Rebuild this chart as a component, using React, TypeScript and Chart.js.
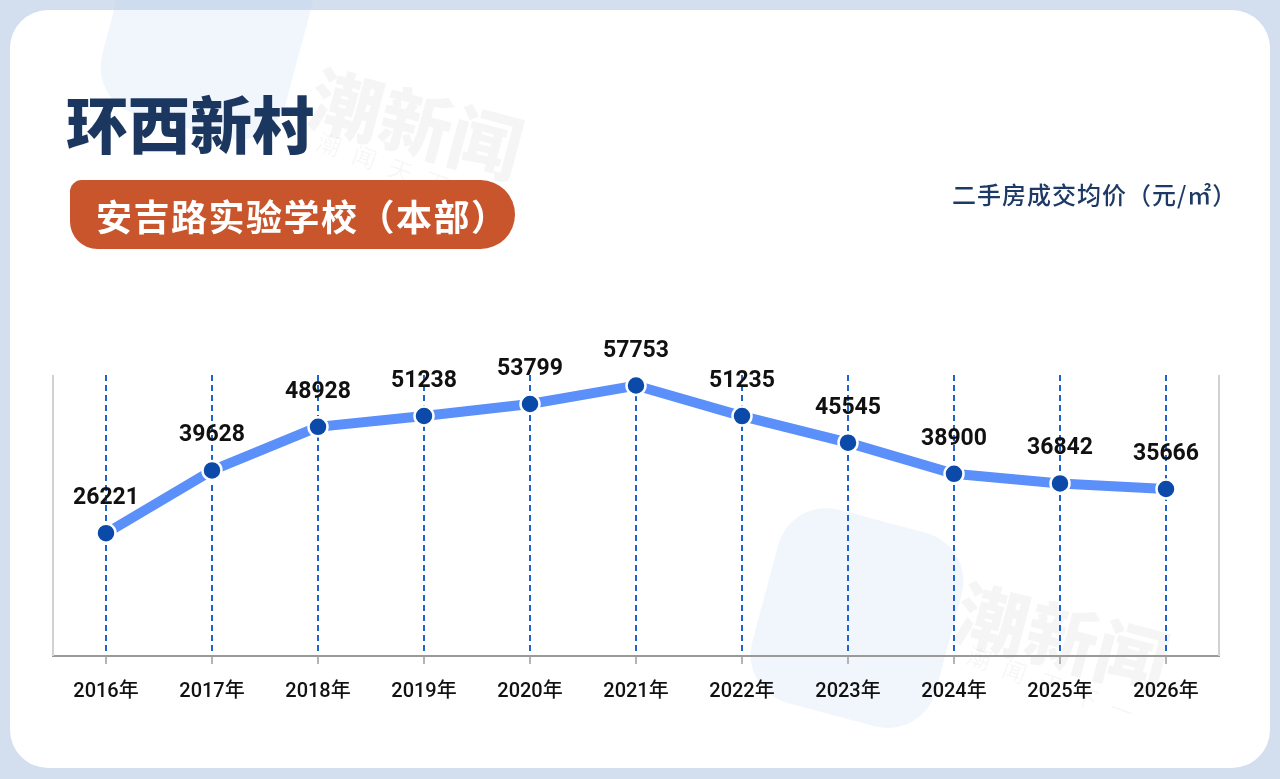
import React, { useEffect, useRef } from "react";
import { Chart, registerables } from "chart.js";

Chart.register(...registerables);

const years = ["2016年", "2017年", "2018年", "2019年", "2020年", "2021年", "2022年", "2023年", "2024年", "2025年", "2026年"];
const prices = [26221, 39628, 48928, 51238, 53799, 57753, 51235, 45545, 38900, 36842, 35666];
const yMin = 0;
const yMax = 60000;

const titleText = "环西新村";
const schoolText = "安吉路实验学校（本部）";
const unitText = "二手房成交均价（元/㎡）";

const NUM_FONT = "Roboto, 'Noto Sans CJK SC', sans-serif";
const CJK_FONT = "'Noto Sans CJK SC', 'Noto Sans', sans-serif";

const valueLabels = {
  id: "valueLabels",
  afterDatasetsDraw(chart: any) {
    const ctx = chart.ctx;
    const meta = chart.getDatasetMeta(0);
    ctx.save();
    ctx.font = `bold 23px ${NUM_FONT}`;
    ctx.fillStyle = "#111111";
    ctx.textAlign = "center";
    ctx.textBaseline = "alphabetic";
    meta.data.forEach((pt: any, i: number) => {
      ctx.fillText(String(prices[i]), pt.x, pt.y - 29);
    });
    ctx.restore();
  },
};

const sideBorders = {
  id: "sideBorders",
  beforeDatasetsDraw(chart: any) {
    const { ctx, chartArea } = chart;
    ctx.save();
    ctx.strokeStyle = "#d2d2d2";
    ctx.lineWidth = 2;
    ctx.beginPath();
    ctx.moveTo(chartArea.left, chartArea.top);
    ctx.lineTo(chartArea.left, chartArea.bottom);
    ctx.moveTo(chartArea.right, chartArea.top);
    ctx.lineTo(chartArea.right, chartArea.bottom);
    ctx.stroke();
    ctx.restore();
  },
};

function LineChart() {
  const ref = useRef<HTMLCanvasElement | null>(null);
  useEffect(() => {
    if (!ref.current) return;
    const chart = new Chart(ref.current, {
      type: "line",
      data: {
        labels: years,
        datasets: [
          {
            data: prices,
            borderColor: "#5b8ff9",
            borderWidth: 10,
            tension: 0,
            pointRadius: 9.5,
            pointHoverRadius: 9.5,
            pointBackgroundColor: "#0b4aa8",
            pointBorderColor: "#ffffff",
            pointBorderWidth: 2.5,
            clip: false as any,
          },
        ],
      },
      options: {
        animation: false,
        responsive: false,
        maintainAspectRatio: false,
        layout: { padding: { left: 53, right: 61, top: 375, bottom: 73 } },
        plugins: { legend: { display: false }, tooltip: { enabled: false } },
        scales: {
          x: {
            type: "category",
            offset: true,
            afterFit(scale: any) {
              scale.height = 50;
            },
            grid: {
              display: true,
              drawOnChartArea: true,
              drawTicks: true,
              color: "#1f63cf",
              lineWidth: 2,
              tickColor: "#b4b4b4",
              tickWidth: 2,
              tickLength: 8,
              tickBorderDash: [],
            },
            border: { display: true, color: "#9a9a9a", width: 2, dash: [6, 4] },
            ticks: {
              color: "#111111",
              padding: 16,
              maxRotation: 0,
              autoSkip: false,
              font: { family: NUM_FONT, size: 20, weight: "500" as any },
            },
          },
          y: { display: false, min: yMin, max: yMax },
        },
      },
      plugins: [sideBorders, valueLabels],
    });
    return () => chart.destroy();
  }, []);
  return (
    <canvas
      ref={ref}
      width={1280}
      height={779}
      style={{ position: "absolute", left: 0, top: 0, width: 1280, height: 779, zIndex: 2 }}
    />
  );
}

export default function App() {
  const wmText: React.CSSProperties = {
    position: "absolute",
    fontFamily: CJK_FONT,
    fontWeight: 900,
    color: "rgba(0,0,0,0.04)",
    whiteSpace: "nowrap",
    lineHeight: 1,
    zIndex: 1,
  };
  const wmSub: React.CSSProperties = {
    position: "absolute",
    fontFamily: CJK_FONT,
    fontWeight: 400,
    color: "rgba(0,0,0,0.05)",
    whiteSpace: "nowrap",
    lineHeight: 1,
    letterSpacing: 14,
    zIndex: 1,
  };
  const wmLogo: React.CSSProperties = {
    position: "absolute",
    background: "rgba(190,212,245,0.22)",
    borderRadius: 50,
    zIndex: 1,
  };
  return (
    <div
      style={{
        position: "fixed",
        left: 0,
        top: 0,
        width: 1280,
        height: 779,
        overflow: "hidden",
        background: "#d3deee",
      }}
    >
      <div
        style={{
          position: "absolute",
          left: 10,
          top: 10,
          width: 1260,
          height: 758,
          borderRadius: 38,
          background: "#ffffff",
        }}
      />
      <div style={{ ...wmLogo, left: 112, top: -70, width: 190, height: 200, transform: "rotate(15deg)" }} />
      <div style={{ ...wmLogo, left: 762, top: 518, width: 190, height: 200, transform: "rotate(15deg)" }} />
      <div style={{ ...wmText, left: 322, top: 58, fontSize: 72, transform: "rotate(15deg)", transformOrigin: "left top" }}>潮新闻</div>
      <div style={{ ...wmSub, left: 322, top: 128, fontSize: 24, transform: "rotate(20deg)", transformOrigin: "left top" }}>潮闻天下一</div>
      <div style={{ ...wmText, left: 968, top: 572, fontSize: 72, transform: "rotate(15deg)", transformOrigin: "left top" }}>潮新闻</div>
      <div style={{ ...wmSub, left: 972, top: 642, fontSize: 24, transform: "rotate(20deg)", transformOrigin: "left top" }}>潮闻天下一</div>

      <div
        style={{
          position: "absolute",
          left: 66,
          top: 91,
          fontFamily: CJK_FONT,
          fontWeight: 900,
          fontSize: 62,
          lineHeight: 1,
          color: "#1b365f",
          whiteSpace: "nowrap",
          zIndex: 3,
        }}
      >
        {titleText}
      </div>
      <div
        style={{
          position: "absolute",
          left: 70,
          top: 180,
          width: 445,
          height: 69,
          background: "#c8552c",
          borderRadius: "12px 35px 35px 28px",
          display: "flex",
          alignItems: "center",
          paddingLeft: 26,
          boxSizing: "border-box",
          zIndex: 3,
        }}
      >
        <span
          style={{
            fontFamily: CJK_FONT,
            fontWeight: 700,
            fontSize: 36,
            letterSpacing: 1.5,
            lineHeight: 1,
            color: "#ffffff",
            whiteSpace: "nowrap",
          }}
        >
          {schoolText}
        </span>
      </div>
      <div
        style={{
          position: "absolute",
          left: 952,
          top: 182,
          fontFamily: CJK_FONT,
          fontWeight: 500,
          fontSize: 24,
          letterSpacing: 1,
          lineHeight: 1,
          color: "#1d3a66",
          whiteSpace: "nowrap",
          zIndex: 3,
        }}
      >
        {unitText}
      </div>
      <LineChart />
    </div>
  );
}
